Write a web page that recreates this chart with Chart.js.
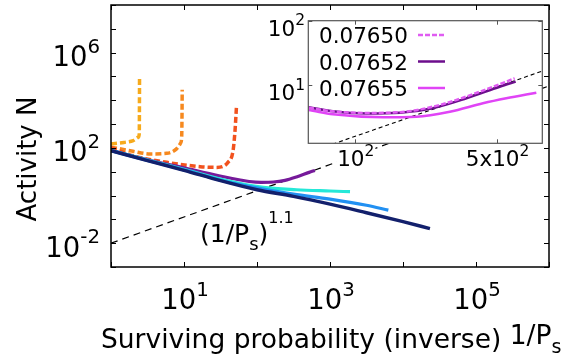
<!DOCTYPE html>
<html>
<head>
<meta charset="utf-8">
<title>Activity N vs 1/Ps</title>
<script src="https://cdn.jsdelivr.net/npm/chart.js"></script>
<style>
  html, body { margin: 0; padding: 0; background: #fff; }
  #wrap { position: relative; width: 568px; height: 358px; }
  #main { position: absolute; left: 0; top: 0; }
  #inset { position: absolute; left: 262px; top: 10px; }
</style>
</head>
<body>
<div id="wrap">
  <canvas id="main" width="568" height="358"></canvas>
  <canvas id="inset" width="282" height="160"></canvas>
</div>
<script>
// [1/Ps, N] pairs for each run
const yellowRun = [[1, 147], [1.5, 170], [2.02, 203], [2.37, 280], [2.44, 400], [2.45, 3000], [2.46, 1e5]];
const orangeRun = [[1, 108], [2, 72], [3.4, 56], [5.8, 59], [7.9, 91], [9.0, 160], [9.3, 300], [9.4, 3000], [9.45, 27700]];
const redRun = [[1, 104], [2, 47], [5.8, 24.8], [16.6, 16.3], [28, 15.2], [40, 24.8], [47, 77], [50, 535], [52.5, 6470]];
const purpleRun = [[1, 79], [3.16, 32], [10, 14.5], [30, 6.8], [59, 4.5], [78, 3.9], [114, 3.6], [167, 3.7], [242, 4.35], [355, 6.2], [518, 9.4], [621, 11.3]];
const cyanRun = [[1, 78], [3.16, 31], [10, 12.6], [42.7, 3.93], [122, 2.19], [347, 1.75], [1000, 1.55], [1880, 1.45]];
const blueRun = [[1, 77], [3.16, 30], [10, 12], [42.7, 3.5], [122, 1.88], [316, 1.15], [1000, 0.71], [3160, 0.39], [6300, 0.245]];
const navyRun = [[1, 76], [3.16, 29.5], [10, 11.5], [31.6, 4.2], [100, 1.75], [316, 0.93], [1000, 0.44], [3160, 0.19], [10000, 0.08], [23400, 0.041]];
const guideLine = [[1, 0.01], [1e6, 39811]]; // (1/Ps)^1.1

// inset runs near the critical point
const run07650 = [[55, 4.6], [59, 4.45], [78, 3.9], [114, 3.68], [167, 3.78], [262, 4.89], [413, 7.87], [614, 12.7]];
const run07652 = purpleRun;
const run07655 = [[55, 4.2], [59, 4.09], [78, 3.5], [138, 3.15], [201, 3.21], [294, 3.84], [428, 5.19], [558, 6.21], [785, 7.59]];
const insetLabels = ['0.07650', '0.07652', '0.07655'];

// tick values and their labels as [base, exponent]
const mainXTicks = [10, 1e3, 1e5];
const mainXTickLabels = [['10', '1'], ['10', '3'], ['10', '5']];
const mainYTicks = [1e-2, 1e2, 1e6];
const mainYTickLabels = [['10', '-2'], ['10', '2'], ['10', '6']];
const insetXTicks = [100, 500];
const insetXTickLabels = [['10', '2'], ['5x10', '2']];
const insetYTicks = [10, 100];
const insetYTickLabels = [['10', '1'], ['10', '2']];

const FONT = '"DejaVu Sans", Verdana, sans-serif';
const pts = (pairs) => pairs.map(([x, y]) => ({ x, y }));

// draws runs of text; each part is {t, s: size factor, dy: baseline shift}
function drawRich(ctx, parts, x, y, size, align) {
  const widths = parts.map((p) => {
    ctx.font = `${size * (p.s || 1)}px ${FONT}`;
    return ctx.measureText(p.t).width;
  });
  const total = widths.reduce((a, b) => a + b, 0);
  let cx = align === 'center' ? x - total / 2 : align === 'right' ? x - total : x;
  const left = cx;
  ctx.textAlign = 'left';
  ctx.textBaseline = 'alphabetic';
  parts.forEach((p, i) => {
    ctx.font = `${size * (p.s || 1)}px ${FONT}`;
    ctx.fillText(p.t, cx, y + (p.dy || 0) * size);
    cx += widths[i];
  });
  return { left, width: total };
}

const powerParts = ([base, exp]) => [{ t: base }, { t: exp, s: 0.72, dy: -0.48 }];

function decades(scale) {
  const out = [];
  for (let e = Math.ceil(Math.log10(scale.min) - 1e-9); e <= Math.floor(Math.log10(scale.max) + 1e-9); e++) out.push(10 ** e);
  return out;
}

const mainDecor = {
  id: 'mainDecor',
  afterDraw(chart) {
    const { ctx, chartArea: a, scales: { x, y } } = chart;
    ctx.save();
    ctx.strokeStyle = '#000';
    ctx.lineWidth = 1;
    ctx.beginPath();
    decades(x).forEach((v) => {
      const px = Math.round(x.getPixelForValue(v)) + 0.5;
      ctx.moveTo(px, a.bottom); ctx.lineTo(px, a.bottom - 5);
      ctx.moveTo(px, a.top); ctx.lineTo(px, a.top + 5);
    });
    decades(y).forEach((v) => {
      const py = Math.round(y.getPixelForValue(v)) + 0.5;
      ctx.moveTo(a.left, py); ctx.lineTo(a.left + 5, py);
      ctx.moveTo(a.right, py); ctx.lineTo(a.right - 5, py);
    });
    ctx.stroke();
    ctx.lineWidth = 1.5;
    ctx.strokeRect(a.left, a.top, a.right - a.left, a.bottom - a.top);

    ctx.fillStyle = '#000';
    mainXTicks.forEach((v, i) => drawRich(ctx, powerParts(mainXTickLabels[i]), x.getPixelForValue(v) + 1, 309, 27.5, 'center'));
    mainYTicks.forEach((v, i) => drawRich(ctx, powerParts(mainYTickLabels[i]), 100, y.getPixelForValue(v) + 13.5, 27.5, 'right'));

    drawRich(ctx, [
      { t: 'Surviving probability (inverse) ' },
      { t: '1/P', dy: -0.16 },
      { t: 's', s: 0.72, dy: 0.2 },
    ], 101, 348, 26.5, 'left');

    drawRich(ctx, [
      { t: '(1/P' },
      { t: 's', s: 0.72, dy: 0.33 },
      { t: ')' },
      { t: '1.1', s: 0.64, dy: -0.75 },
    ], 200, 241.7, 25, 'left');

    ctx.translate(36, 159);
    ctx.rotate(-Math.PI / 2);
    ctx.font = `26px ${FONT}`;
    ctx.textAlign = 'center';
    ctx.fillText('Activity N', 0, 0);
    ctx.restore();
  },
};

const insetDecor = {
  id: 'insetDecor',
  beforeDatasetsDraw(chart) {
    const { ctx, chartArea: a } = chart;
    ctx.save();
    ctx.fillStyle = '#fff';
    ctx.fillRect(a.left, a.top, a.right - a.left, a.bottom - a.top);
    ctx.restore();
  },
  afterDraw(chart) {
    const { ctx, chartArea: a, scales: { x, y } } = chart;
    ctx.save();
    ctx.strokeStyle = '#555';
    ctx.lineWidth = 1;
    ctx.beginPath();
    insetXTicks.forEach((v) => {
      const px = Math.round(x.getPixelForValue(v)) + 0.5;
      ctx.moveTo(px, a.bottom); ctx.lineTo(px, a.bottom - 4);
      ctx.moveTo(px, a.top); ctx.lineTo(px, a.top + 4);
    });
    insetYTicks.forEach((v) => {
      const py = Math.round(y.getPixelForValue(v)) + 0.5;
      ctx.moveTo(a.left, py); ctx.lineTo(a.left + 4, py);
      ctx.moveTo(a.right, py); ctx.lineTo(a.right - 4, py);
    });
    ctx.stroke();
    ctx.lineWidth = 1.2;
    ctx.strokeRect(a.left, a.top, a.right - a.left, a.bottom - a.top);

    // tick labels sit on a white patch so the main guide line stops under them
    const label = (parts, px, py, align) => {
      ctx.fillStyle = 'rgba(0,0,0,0)';
      const box = drawRich(ctx, parts, px, py, 21.5, align);
      ctx.fillStyle = '#fff';
      ctx.fillRect(box.left - 1, py - 22, box.width + 2, 27);
      ctx.fillStyle = '#000';
      drawRich(ctx, parts, px, py, 21.5, align);
    };
    insetXTicks.forEach((v, i) => label(powerParts(insetXTickLabels[i]), x.getPixelForValue(v) + 1, 156, 'center'));
    insetYTicks.forEach((v, i) => label(powerParts(insetYTickLabels[i]), 43, y.getPixelForValue(v) + 15, 'right'));

    // legend: label on the left, line sample on the right
    chart.data.datasets.slice(0, 3).forEach((ds, i) => {
      const ly = 25 + i * 26.5;
      ctx.fillStyle = '#000';
      drawRich(ctx, [{ t: ds.label }], 57, ly + 8, 21.5, 'left');
      ctx.strokeStyle = ds.borderColor;
      ctx.lineWidth = ds.borderWidth;
      ctx.setLineDash(ds.borderDash || []);
      ctx.beginPath();
      ctx.moveTo(156, ly); ctx.lineTo(183, ly);
      ctx.stroke();
    });
    ctx.restore();
  },
};

const line = (data, color, width, dash) => ({
  data: pts(data), borderColor: color, borderWidth: width, borderDash: dash || [],
  borderCapStyle: 'butt', pointRadius: 0, fill: false, cubicInterpolationMode: 'monotone',
});

new Chart(document.getElementById('main'), {
  type: 'line',
  data: {
    datasets: [
      line(navyRun, '#13206c', 3.4),
      line(blueRun, '#2190f2', 3.2),
      line(cyanRun, '#25e8d8', 3.2),
      line(purpleRun, '#761a9a', 3.2),
      line(redRun, '#f2521e', 3.5, [6, 3]),
      line(orangeRun, '#f6891f', 3.5, [6, 3]),
      line(yellowRun, '#f6aa1c', 3.5, [6, 3]),
      line(guideLine, '#000', 1.2, [7, 5]),
    ],
  },
  options: {
    responsive: false,
    animation: false,
    events: [],
    layout: { padding: { left: 111, top: 5, right: 19, bottom: 91 } },
    scales: {
      x: { type: 'logarithmic', min: 1, max: 1e6, display: false },
      y: { type: 'logarithmic', min: 1e-3, max: 1e8, display: false },
    },
    plugins: { legend: { display: false }, tooltip: { enabled: false } },
  },
  plugins: [mainDecor],
});

new Chart(document.getElementById('inset'), {
  type: 'line',
  data: {
    datasets: [
      { ...line(run07650, '#e05cf2', 2.5, [5, 2]), label: insetLabels[0] },
      { ...line(run07652, '#6c0e8c', 2.5), label: insetLabels[1] },
      { ...line(run07655, '#e044f6', 2.5), label: insetLabels[2] },
      line(guideLine, '#000', 1.1, [4, 3]),
    ],
  },
  options: {
    responsive: false,
    animation: false,
    events: [],
    layout: { padding: { left: 46.3, top: 10.7, right: 1.7, bottom: 26.7 } },
    scales: {
      x: { type: 'logarithmic', min: 59, max: 840, display: false },
      y: { type: 'logarithmic', min: 1.24, max: 100, display: false },
    },
    plugins: { legend: { display: false }, tooltip: { enabled: false } },
  },
  plugins: [insetDecor],
});
</script>
</body>
</html>
